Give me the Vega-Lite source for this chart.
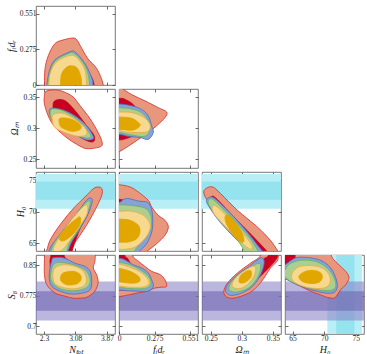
{
"$schema":"https://vega.github.io/schema/vega-lite/v6.json",
"datasets":{
"hb":[{"k":"h2","lo":70.5,"hi":76.0},{"k":"h1","lo":71.9,"hi":74.8}],
"sb":[{"k":"s2","lo":0.714,"hi":0.81},{"k":"s1","lo":0.738,"hi":0.786}],
"a":[
{"c":"1","x":2.31,"y":0.0},{"c":"1","x":2.325,"y":0.126},{"c":"1","x":2.41,"y":0.229},{"c":"1","x":2.57,"y":0.319},{"c":"1","x":2.77,"y":0.347},{"c":"1","x":3.02,"y":0.363},{"c":"1","x":3.12,"y":0.347},{"c":"1","x":3.25,"y":0.278},{"c":"1","x":3.4,"y":0.2},{"c":"1","x":3.62,"y":0.124},{"c":"1","x":3.78,"y":0.0},{"c":"1","x":3.82,"y":-0.15},{"c":"1","x":2.29,"y":-0.15},
{"c":"2","x":2.45,"y":0.0},{"c":"2","x":2.5,"y":0.1},{"c":"2","x":2.7,"y":0.2},{"c":"2","x":2.95,"y":0.24},{"c":"2","x":3.2,"y":0.2},{"c":"2","x":3.45,"y":0.08},{"c":"2","x":3.55,"y":0.0},{"c":"2","x":3.58,"y":-0.15},{"c":"2","x":2.43,"y":-0.15},
{"c":"3","x":2.37,"y":0.0},{"c":"3","x":2.45,"y":0.126},{"c":"3","x":2.57,"y":0.193},{"c":"3","x":2.77,"y":0.232},{"c":"3","x":3.0,"y":0.262},{"c":"3","x":3.07,"y":0.255},{"c":"3","x":3.2,"y":0.216},{"c":"3","x":3.37,"y":0.139},{"c":"3","x":3.5,"y":0.046},{"c":"3","x":3.52,"y":0.0},{"c":"3","x":3.54,"y":-0.15},{"c":"3","x":2.35,"y":-0.15},
{"c":"4","x":2.39,"y":0.0},{"c":"4","x":2.49,"y":0.139},{"c":"4","x":2.65,"y":0.203},{"c":"4","x":2.9,"y":0.242},{"c":"4","x":3.02,"y":0.249},{"c":"4","x":3.2,"y":0.203},{"c":"4","x":3.37,"y":0.116},{"c":"4","x":3.44,"y":0.0},{"c":"4","x":3.46,"y":-0.15},{"c":"4","x":2.37,"y":-0.15},
{"c":"5","x":2.42,"y":0.0},{"c":"5","x":2.45,"y":0.087},{"c":"5","x":2.57,"y":0.164},{"c":"5","x":2.77,"y":0.208},{"c":"5","x":3.0,"y":0.229},{"c":"5","x":3.15,"y":0.2},{"c":"5","x":3.32,"y":0.116},{"c":"5","x":3.36,"y":0.0},{"c":"5","x":3.38,"y":-0.15},{"c":"5","x":2.4,"y":-0.15},
{"c":"6","x":2.71,"y":0.0},{"c":"6","x":2.74,"y":0.087},{"c":"6","x":2.87,"y":0.139},{"c":"6","x":3.02,"y":0.147},{"c":"6","x":3.14,"y":0.126},{"c":"6","x":3.22,"y":0.062},{"c":"6","x":3.24,"y":0.0},{"c":"6","x":3.26,"y":-0.15},{"c":"6","x":2.69,"y":-0.15}
],
"b":[
{"c":"1","x":2.37,"y":0.36},{"c":"1","x":2.66,"y":0.361},{"c":"1","x":2.99,"y":0.352},{"c":"1","x":3.2,"y":0.336},{"c":"1","x":3.45,"y":0.315},{"c":"1","x":3.65,"y":0.293},{"c":"1","x":3.75,"y":0.277},{"c":"1","x":3.7,"y":0.27},{"c":"1","x":3.4,"y":0.267},{"c":"1","x":3.2,"y":0.271},{"c":"1","x":2.82,"y":0.287},{"c":"1","x":2.49,"y":0.309},{"c":"1","x":2.32,"y":0.336},{"c":"1","x":2.31,"y":0.352},
{"c":"2","x":2.55,"y":0.343},{"c":"2","x":2.8,"y":0.345},{"c":"2","x":3.05,"y":0.33},{"c":"2","x":3.35,"y":0.305},{"c":"2","x":3.55,"y":0.288},{"c":"2","x":3.52,"y":0.278},{"c":"2","x":3.3,"y":0.282},{"c":"2","x":3.0,"y":0.295},{"c":"2","x":2.7,"y":0.31},{"c":"2","x":2.55,"y":0.325},
{"c":"3","x":2.45,"y":0.331},{"c":"3","x":2.74,"y":0.33},{"c":"3","x":3.07,"y":0.32},{"c":"3","x":3.36,"y":0.304},{"c":"3","x":3.53,"y":0.287},{"c":"3","x":3.5,"y":0.282},{"c":"3","x":3.32,"y":0.282},{"c":"3","x":2.99,"y":0.293},{"c":"3","x":2.62,"y":0.306},{"c":"3","x":2.47,"y":0.317},
{"c":"4","x":2.47,"y":0.33},{"c":"4","x":2.74,"y":0.329},{"c":"4","x":3.07,"y":0.317},{"c":"4","x":3.32,"y":0.301},{"c":"4","x":3.47,"y":0.287},{"c":"4","x":3.3,"y":0.285},{"c":"4","x":2.99,"y":0.295},{"c":"4","x":2.66,"y":0.307},{"c":"4","x":2.49,"y":0.314},
{"c":"5","x":2.53,"y":0.322},{"c":"5","x":2.78,"y":0.324},{"c":"5","x":3.07,"y":0.314},{"c":"5","x":3.32,"y":0.301},{"c":"5","x":3.36,"y":0.29},{"c":"5","x":3.15,"y":0.287},{"c":"5","x":2.82,"y":0.293},{"c":"5","x":2.57,"y":0.301},{"c":"5","x":2.51,"y":0.312},
{"c":"6","x":2.7,"y":0.316},{"c":"6","x":2.95,"y":0.315},{"c":"6","x":3.2,"y":0.306},{"c":"6","x":3.2,"y":0.298},{"c":"6","x":2.99,"y":0.295},{"c":"6","x":2.74,"y":0.301},{"c":"6","x":2.68,"y":0.309}
],
"c":[
{"c":"1","x":-0.15,"y":0.375},{"c":"1","x":0.0,"y":0.366},{"c":"1","x":0.098,"y":0.354},{"c":"1","x":0.2,"y":0.344},{"c":"1","x":0.303,"y":0.333},{"c":"1","x":0.368,"y":0.326},{"c":"1","x":0.355,"y":0.317},{"c":"1","x":0.291,"y":0.304},{"c":"1","x":0.226,"y":0.293},{"c":"1","x":0.149,"y":0.282},{"c":"1","x":0.072,"y":0.271},{"c":"1","x":0.0,"y":0.262},{"c":"1","x":-0.15,"y":0.245},
{"c":"2","x":-0.15,"y":0.35},{"c":"2","x":0.0,"y":0.348},{"c":"2","x":0.04,"y":0.347},{"c":"2","x":0.11,"y":0.338},{"c":"2","x":0.16,"y":0.32},{"c":"2","x":0.17,"y":0.3},{"c":"2","x":0.12,"y":0.289},{"c":"2","x":0.05,"y":0.283},{"c":"2","x":0.0,"y":0.281},{"c":"2","x":-0.15,"y":0.279},
{"c":"3","x":-0.15,"y":0.34},{"c":"3","x":0.0,"y":0.339},{"c":"3","x":0.098,"y":0.336},{"c":"3","x":0.175,"y":0.33},{"c":"3","x":0.226,"y":0.32},{"c":"3","x":0.252,"y":0.304},{"c":"3","x":0.265,"y":0.293},{"c":"3","x":0.226,"y":0.282},{"c":"3","x":0.162,"y":0.285},{"c":"3","x":0.072,"y":0.287},{"c":"3","x":0.0,"y":0.29},{"c":"3","x":-0.15,"y":0.29},
{"c":"4","x":-0.15,"y":0.334},{"c":"4","x":0.0,"y":0.333},{"c":"4","x":0.098,"y":0.331},{"c":"4","x":0.175,"y":0.325},{"c":"4","x":0.226,"y":0.312},{"c":"4","x":0.239,"y":0.298},{"c":"4","x":0.2,"y":0.287},{"c":"4","x":0.098,"y":0.289},{"c":"4","x":0.0,"y":0.293},{"c":"4","x":-0.15,"y":0.294},
{"c":"5","x":-0.15,"y":0.327},{"c":"5","x":0.0,"y":0.326},{"c":"5","x":0.098,"y":0.325},{"c":"5","x":0.188,"y":0.318},{"c":"5","x":0.239,"y":0.306},{"c":"5","x":0.226,"y":0.295},{"c":"5","x":0.149,"y":0.293},{"c":"5","x":0.046,"y":0.294},{"c":"5","x":0.0,"y":0.296},{"c":"5","x":-0.15,"y":0.298},
{"c":"6","x":-0.15,"y":0.318},{"c":"6","x":0.0,"y":0.318},{"c":"6","x":0.098,"y":0.316},{"c":"6","x":0.149,"y":0.309},{"c":"6","x":0.162,"y":0.304},{"c":"6","x":0.11,"y":0.297},{"c":"6","x":0.0,"y":0.298},{"c":"6","x":-0.15,"y":0.298}
],
"d":[
{"c":"1","x":3.65,"y":73.93},{"c":"1","x":3.74,"y":73.66},{"c":"1","x":3.74,"y":72.61},{"c":"1","x":3.57,"y":70.24},{"c":"1","x":3.36,"y":67.87},{"c":"1","x":3.11,"y":65.49},{"c":"1","x":2.93,"y":63.8},{"c":"1","x":2.75,"y":62.0},{"c":"1","x":2.2,"y":62.0},{"c":"1","x":2.36,"y":63.8},{"c":"1","x":2.45,"y":65.5},{"c":"1","x":2.66,"y":67.6},{"c":"1","x":2.99,"y":70.24},{"c":"1","x":3.32,"y":72.35},{"c":"1","x":3.53,"y":73.66},
{"c":"2","x":3.38,"y":71.7},{"c":"2","x":3.45,"y":71.6},{"c":"2","x":3.4,"y":69.8},{"c":"2","x":3.2,"y":67.4},{"c":"2","x":3.06,"y":65.0},{"c":"2","x":3.0,"y":63.8},{"c":"2","x":2.9,"y":62.0},{"c":"2","x":2.45,"y":62.0},{"c":"2","x":2.55,"y":63.8},{"c":"2","x":2.62,"y":64.9},{"c":"2","x":2.85,"y":67.3},{"c":"2","x":3.15,"y":69.9},
{"c":"3","x":3.47,"y":72.19},{"c":"3","x":3.5,"y":71.55},{"c":"3","x":3.4,"y":69.7},{"c":"3","x":3.2,"y":67.33},{"c":"3","x":2.99,"y":65.23},{"c":"3","x":2.9,"y":63.8},{"c":"3","x":2.78,"y":62.0},{"c":"3","x":2.28,"y":62.0},{"c":"3","x":2.42,"y":63.8},{"c":"3","x":2.49,"y":64.7},{"c":"3","x":2.78,"y":67.08},{"c":"3","x":3.11,"y":69.7},{"c":"3","x":3.36,"y":71.82},
{"c":"4","x":3.45,"y":71.55},{"c":"4","x":3.4,"y":70.24},{"c":"4","x":3.2,"y":67.6},{"c":"4","x":2.95,"y":65.23},{"c":"4","x":2.87,"y":63.8},{"c":"4","x":2.75,"y":62.0},{"c":"4","x":2.33,"y":62.0},{"c":"4","x":2.47,"y":63.8},{"c":"4","x":2.57,"y":65.23},{"c":"4","x":2.82,"y":67.33},{"c":"4","x":3.11,"y":69.7},{"c":"4","x":3.36,"y":71.55},
{"c":"5","x":3.39,"y":70.76},{"c":"5","x":3.36,"y":69.45},{"c":"5","x":3.15,"y":67.33},{"c":"5","x":2.95,"y":65.5},{"c":"5","x":2.74,"y":63.91},{"c":"5","x":2.53,"y":63.91},{"c":"5","x":2.66,"y":65.75},{"c":"5","x":2.91,"y":68.12},{"c":"5","x":3.15,"y":69.97},{"c":"5","x":3.32,"y":71.03},
{"c":"6","x":3.2,"y":69.18},{"c":"6","x":3.2,"y":68.12},{"c":"6","x":3.03,"y":66.54},{"c":"6","x":2.82,"y":65.49},{"c":"6","x":2.7,"y":65.49},{"c":"6","x":2.7,"y":66.29},{"c":"6","x":2.91,"y":67.87},{"c":"6","x":3.11,"y":68.91}
],
"e":[
{"c":"1","x":-0.15,"y":74.6},{"c":"1","x":0.0,"y":74.3},{"c":"1","x":0.085,"y":73.93},{"c":"1","x":0.149,"y":73.14},{"c":"1","x":0.226,"y":71.82},{"c":"1","x":0.252,"y":70.76},{"c":"1","x":0.303,"y":69.45},{"c":"1","x":0.355,"y":68.66},{"c":"1","x":0.381,"y":67.6},{"c":"1","x":0.355,"y":66.29},{"c":"1","x":0.291,"y":64.96},{"c":"1","x":0.226,"y":63.91},{"c":"1","x":0.2,"y":63.5},{"c":"1","x":0.15,"y":62.0},{"c":"1","x":-0.15,"y":62.0},
{"c":"2","x":-0.15,"y":72.2},{"c":"2","x":0.0,"y":72.0},{"c":"2","x":0.05,"y":71.6},{"c":"2","x":0.12,"y":70.0},{"c":"2","x":0.16,"y":67.5},{"c":"2","x":0.14,"y":65.0},{"c":"2","x":0.1,"y":63.8},{"c":"2","x":0.06,"y":62.0},{"c":"2","x":-0.15,"y":62.0},
{"c":"3","x":-0.15,"y":71.0},{"c":"3","x":0.0,"y":71.5},{"c":"3","x":0.03,"y":71.9},{"c":"3","x":0.07,"y":72.1},{"c":"3","x":0.15,"y":71.7},{"c":"3","x":0.22,"y":71.5},{"c":"3","x":0.25,"y":70.5},{"c":"3","x":0.26,"y":69.0},{"c":"3","x":0.255,"y":67.0},{"c":"3","x":0.215,"y":65.0},{"c":"3","x":0.16,"y":63.8},{"c":"3","x":0.1,"y":62.0},{"c":"3","x":-0.15,"y":62.0},
{"c":"4","x":-0.15,"y":71.1},{"c":"4","x":0.0,"y":71.1},{"c":"4","x":0.098,"y":71.0},{"c":"4","x":0.2,"y":70.6},{"c":"4","x":0.239,"y":69.7},{"c":"4","x":0.252,"y":68.4},{"c":"4","x":0.239,"y":67.1},{"c":"4","x":0.2,"y":65.8},{"c":"4","x":0.14,"y":64.4},{"c":"4","x":0.12,"y":63.8},{"c":"4","x":0.08,"y":62.0},{"c":"4","x":-0.15,"y":62.0},
{"c":"5","x":-0.15,"y":70.1},{"c":"5","x":0.0,"y":70.1},{"c":"5","x":0.098,"y":70.08},{"c":"5","x":0.188,"y":69.45},{"c":"5","x":0.239,"y":68.12},{"c":"5","x":0.232,"y":66.81},{"c":"5","x":0.188,"y":65.5},{"c":"5","x":0.124,"y":64.43},{"c":"5","x":0.046,"y":64.07},{"c":"5","x":0.0,"y":64.08},{"c":"5","x":-0.15,"y":64.1},
{"c":"6","x":-0.15,"y":68.9},{"c":"6","x":0.0,"y":68.85},{"c":"6","x":0.085,"y":68.66},{"c":"6","x":0.149,"y":67.87},{"c":"6","x":0.162,"y":66.81},{"c":"6","x":0.137,"y":65.75},{"c":"6","x":0.072,"y":65.23},{"c":"6","x":0.0,"y":65.2},{"c":"6","x":-0.15,"y":65.2}
],
"f":[
{"c":"1","x":0.242,"y":73.66},{"c":"1","x":0.253,"y":73.93},{"c":"1","x":0.266,"y":72.87},{"c":"1","x":0.293,"y":70.24},{"c":"1","x":0.325,"y":67.6},{"c":"1","x":0.346,"y":65.49},{"c":"1","x":0.358,"y":63.8},{"c":"1","x":0.372,"y":62.0},{"c":"1","x":0.335,"y":62.0},{"c":"1","x":0.321,"y":63.8},{"c":"1","x":0.314,"y":64.7},{"c":"1","x":0.293,"y":66.54},{"c":"1","x":0.271,"y":68.39},{"c":"1","x":0.25,"y":71.03},{"c":"1","x":0.239,"y":72.87},
{"c":"2","x":0.25,"y":72.3},{"c":"2","x":0.258,"y":72.2},{"c":"2","x":0.286,"y":69.3},{"c":"2","x":0.316,"y":66.3},{"c":"2","x":0.34,"y":63.8},{"c":"2","x":0.355,"y":62.0},{"c":"2","x":0.325,"y":62.0},{"c":"2","x":0.315,"y":63.8},{"c":"2","x":0.298,"y":65.5},{"c":"2","x":0.265,"y":69.5},{"c":"2","x":0.248,"y":71.5},
{"c":"3","x":0.2445,"y":72.08},{"c":"3","x":0.2526,"y":72.35},{"c":"3","x":0.2633,"y":71.55},{"c":"3","x":0.2875,"y":69.18},{"c":"3","x":0.3088,"y":66.81},{"c":"3","x":0.3277,"y":64.43},{"c":"3","x":0.333,"y":63.8},{"c":"3","x":0.345,"y":62.0},{"c":"3","x":0.315,"y":62.0},{"c":"3","x":0.307,"y":63.8},{"c":"3","x":0.3035,"y":64.43},{"c":"3","x":0.282,"y":66.54},{"c":"3","x":0.2606,"y":68.91},{"c":"3","x":0.2445,"y":71.29},
{"c":"4","x":0.2473,"y":71.82},{"c":"4","x":0.2553,"y":71.82},{"c":"4","x":0.2875,"y":68.66},{"c":"4","x":0.3116,"y":66.02},{"c":"4","x":0.326,"y":63.8},{"c":"4","x":0.337,"y":62.0},{"c":"4","x":0.31,"y":62.0},{"c":"4","x":0.304,"y":63.8},{"c":"4","x":0.2875,"y":66.29},{"c":"4","x":0.2661,"y":68.39},{"c":"4","x":0.2473,"y":71.03},
{"c":"5","x":0.2526,"y":70.76},{"c":"5","x":0.2606,"y":70.76},{"c":"5","x":0.2875,"y":68.12},{"c":"5","x":0.3088,"y":65.75},{"c":"5","x":0.3169,"y":64.43},{"c":"5","x":0.3116,"y":64.17},{"c":"5","x":0.2928,"y":65.75},{"c":"5","x":0.2714,"y":67.87},{"c":"5","x":0.2553,"y":69.7},
{"c":"6","x":0.2741,"y":69.45},{"c":"6","x":0.2821,"y":69.18},{"c":"6","x":0.2982,"y":67.08},{"c":"6","x":0.3035,"y":65.49},{"c":"6","x":0.2982,"y":65.23},{"c":"6","x":0.2847,"y":66.54},{"c":"6","x":0.2741,"y":68.39}
],
"g":[
{"c":"1","x":2.31,"y":0.875},{"c":"1","x":2.29,"y":0.92},{"c":"1","x":3.6,"y":0.92},{"c":"1","x":3.58,"y":0.875},{"c":"1","x":3.57,"y":0.86},{"c":"1","x":3.53,"y":0.843},{"c":"1","x":3.61,"y":0.827},{"c":"1","x":3.65,"y":0.81},{"c":"1","x":3.61,"y":0.794},{"c":"1","x":3.53,"y":0.782},{"c":"1","x":3.36,"y":0.771},{"c":"1","x":3.2,"y":0.769},{"c":"1","x":3.03,"y":0.769},{"c":"1","x":2.82,"y":0.774},{"c":"1","x":2.57,"y":0.782},{"c":"1","x":2.37,"y":0.802},{"c":"1","x":2.31,"y":0.827},{"c":"1","x":2.31,"y":0.86},
{"c":"2","x":2.47,"y":0.875},{"c":"2","x":2.46,"y":0.92},{"c":"2","x":2.8,"y":0.92},{"c":"2","x":2.8,"y":0.875},{"c":"2","x":2.9,"y":0.862},{"c":"2","x":3.1,"y":0.845},{"c":"2","x":3.2,"y":0.82},{"c":"2","x":3.1,"y":0.8},{"c":"2","x":2.85,"y":0.79},{"c":"2","x":2.6,"y":0.8},{"c":"2","x":2.48,"y":0.83},{"c":"2","x":2.45,"y":0.86},
{"c":"3","x":2.53,"y":0.868},{"c":"3","x":2.78,"y":0.868},{"c":"3","x":3.07,"y":0.855},{"c":"3","x":3.32,"y":0.847},{"c":"3","x":3.45,"y":0.835},{"c":"3","x":3.49,"y":0.81},{"c":"3","x":3.45,"y":0.79},{"c":"3","x":3.28,"y":0.782},{"c":"3","x":2.99,"y":0.779},{"c":"3","x":2.7,"y":0.786},{"c":"3","x":2.49,"y":0.798},{"c":"3","x":2.43,"y":0.819},{"c":"3","x":2.45,"y":0.843},{"c":"3","x":2.49,"y":0.86},
{"c":"4","x":2.57,"y":0.855},{"c":"4","x":2.87,"y":0.855},{"c":"4","x":3.15,"y":0.847},{"c":"4","x":3.36,"y":0.835},{"c":"4","x":3.45,"y":0.814},{"c":"4","x":3.4,"y":0.798},{"c":"4","x":3.24,"y":0.79},{"c":"4","x":2.95,"y":0.787},{"c":"4","x":2.66,"y":0.794},{"c":"4","x":2.49,"y":0.81},{"c":"4","x":2.47,"y":0.831},
{"c":"5","x":2.57,"y":0.843},{"c":"5","x":2.78,"y":0.851},{"c":"5","x":3.07,"y":0.847},{"c":"5","x":3.28,"y":0.835},{"c":"5","x":3.36,"y":0.814},{"c":"5","x":3.28,"y":0.798},{"c":"5","x":3.03,"y":0.792},{"c":"5","x":2.74,"y":0.796},{"c":"5","x":2.56,"y":0.806},{"c":"5","x":2.52,"y":0.827},
{"c":"6","x":2.78,"y":0.831},{"c":"6","x":3.03,"y":0.835},{"c":"6","x":3.2,"y":0.827},{"c":"6","x":3.22,"y":0.814},{"c":"6","x":3.11,"y":0.804},{"c":"6","x":2.87,"y":0.802},{"c":"6","x":2.72,"y":0.812},{"c":"6","x":2.72,"y":0.823}
],
"h":[
{"c":"1","x":-0.15,"y":0.92},{"c":"1","x":0.1,"y":0.92},{"c":"1","x":0.105,"y":0.875},{"c":"1","x":0.149,"y":0.86},{"c":"1","x":0.2,"y":0.847},{"c":"1","x":0.252,"y":0.835},{"c":"1","x":0.317,"y":0.827},{"c":"1","x":0.355,"y":0.814},{"c":"1","x":0.368,"y":0.798},{"c":"1","x":0.33,"y":0.796},{"c":"1","x":0.278,"y":0.794},{"c":"1","x":0.226,"y":0.787},{"c":"1","x":0.149,"y":0.782},{"c":"1","x":0.072,"y":0.777},{"c":"1","x":0.0,"y":0.773},{"c":"1","x":-0.15,"y":0.77},
{"c":"2","x":-0.15,"y":0.92},{"c":"2","x":0.04,"y":0.92},{"c":"2","x":0.045,"y":0.875},{"c":"2","x":0.07,"y":0.865},{"c":"2","x":0.1,"y":0.84},{"c":"2","x":0.1,"y":0.8},{"c":"2","x":0.05,"y":0.79},{"c":"2","x":0.0,"y":0.789},{"c":"2","x":-0.15,"y":0.789},
{"c":"3","x":-0.15,"y":0.871},{"c":"3","x":0.0,"y":0.867},{"c":"3","x":0.046,"y":0.863},{"c":"3","x":0.11,"y":0.851},{"c":"3","x":0.175,"y":0.843},{"c":"3","x":0.226,"y":0.831},{"c":"3","x":0.252,"y":0.814},{"c":"3","x":0.265,"y":0.798},{"c":"3","x":0.226,"y":0.786},{"c":"3","x":0.149,"y":0.786},{"c":"3","x":0.072,"y":0.787},{"c":"3","x":0.0,"y":0.789},{"c":"3","x":-0.15,"y":0.79},
{"c":"4","x":-0.15,"y":0.861},{"c":"4","x":0.0,"y":0.857},{"c":"4","x":0.085,"y":0.851},{"c":"4","x":0.162,"y":0.839},{"c":"4","x":0.226,"y":0.823},{"c":"4","x":0.247,"y":0.806},{"c":"4","x":0.214,"y":0.794},{"c":"4","x":0.124,"y":0.792},{"c":"4","x":0.0,"y":0.795},{"c":"4","x":-0.15,"y":0.796},
{"c":"5","x":-0.15,"y":0.858},{"c":"5","x":0.0,"y":0.853},{"c":"5","x":0.098,"y":0.843},{"c":"5","x":0.175,"y":0.831},{"c":"5","x":0.226,"y":0.814},{"c":"5","x":0.226,"y":0.802},{"c":"5","x":0.175,"y":0.796},{"c":"5","x":0.072,"y":0.796},{"c":"5","x":0.0,"y":0.799},{"c":"5","x":-0.15,"y":0.801},
{"c":"6","x":-0.15,"y":0.845},{"c":"6","x":0.0,"y":0.842},{"c":"6","x":0.085,"y":0.835},{"c":"6","x":0.149,"y":0.823},{"c":"6","x":0.162,"y":0.812},{"c":"6","x":0.124,"y":0.806},{"c":"6","x":0.046,"y":0.807},{"c":"6","x":0.0,"y":0.809},{"c":"6","x":-0.15,"y":0.81}
],
"k":[
{"c":"1","x":0.274,"y":0.774},{"c":"1","x":0.271,"y":0.786},{"c":"1","x":0.277,"y":0.806},{"c":"1","x":0.293,"y":0.831},{"c":"1","x":0.314,"y":0.855},{"c":"1","x":0.331,"y":0.875},{"c":"1","x":0.34,"y":0.92},{"c":"1","x":0.375,"y":0.92},{"c":"1","x":0.36,"y":0.875},{"c":"1","x":0.357,"y":0.86},{"c":"1","x":0.346,"y":0.843},{"c":"1","x":0.336,"y":0.819},{"c":"1","x":0.325,"y":0.798},{"c":"1","x":0.312,"y":0.782},{"c":"1","x":0.293,"y":0.771},{"c":"1","x":0.282,"y":0.769},
{"c":"2","x":0.29,"y":0.8},{"c":"2","x":0.31,"y":0.83},{"c":"2","x":0.335,"y":0.865},{"c":"2","x":0.343,"y":0.875},{"c":"2","x":0.35,"y":0.92},{"c":"2","x":0.365,"y":0.92},{"c":"2","x":0.358,"y":0.875},{"c":"2","x":0.354,"y":0.862},{"c":"2","x":0.343,"y":0.843},{"c":"2","x":0.328,"y":0.82},{"c":"2","x":0.315,"y":0.8},{"c":"2","x":0.3,"y":0.79},
{"c":"3","x":0.274,"y":0.786},{"c":"3","x":0.277,"y":0.802},{"c":"3","x":0.293,"y":0.827},{"c":"3","x":0.3116,"y":0.847},{"c":"3","x":0.325,"y":0.863},{"c":"3","x":0.333,"y":0.868},{"c":"3","x":0.336,"y":0.855},{"c":"3","x":0.3304,"y":0.827},{"c":"3","x":0.3196,"y":0.802},{"c":"3","x":0.3063,"y":0.786},{"c":"3","x":0.2902,"y":0.777},{"c":"3","x":0.2794,"y":0.777},
{"c":"4","x":0.2794,"y":0.79},{"c":"4","x":0.2821,"y":0.806},{"c":"4","x":0.2955,"y":0.827},{"c":"4","x":0.3143,"y":0.845},{"c":"4","x":0.3277,"y":0.855},{"c":"4","x":0.3304,"y":0.843},{"c":"4","x":0.325,"y":0.819},{"c":"4","x":0.3143,"y":0.798},{"c":"4","x":0.3008,"y":0.787},{"c":"4","x":0.2875,"y":0.784},
{"c":"5","x":0.2847,"y":0.798},{"c":"5","x":0.2875,"y":0.814},{"c":"5","x":0.3008,"y":0.833},{"c":"5","x":0.3169,"y":0.847},{"c":"5","x":0.3223,"y":0.843},{"c":"5","x":0.3196,"y":0.823},{"c":"5","x":0.3088,"y":0.802},{"c":"5","x":0.2955,"y":0.792},
{"c":"6","x":0.2955,"y":0.81},{"c":"6","x":0.2982,"y":0.825},{"c":"6","x":0.3088,"y":0.836},{"c":"6","x":0.3153,"y":0.835},{"c":"6","x":0.3143,"y":0.82},{"c":"6","x":0.3063,"y":0.809},{"c":"6","x":0.2992,"y":0.806}
],
"m":[
{"c":"1","x":63.0,"y":0.92},{"c":"1","x":71.0,"y":0.92},{"c":"1","x":71.1,"y":0.875},{"c":"1","x":72.07,"y":0.855},{"c":"1","x":73.4,"y":0.835},{"c":"1","x":73.92,"y":0.819},{"c":"1","x":73.4,"y":0.802},{"c":"1","x":72.61,"y":0.79},{"c":"1","x":72.07,"y":0.777},{"c":"1","x":71.55,"y":0.769},{"c":"1","x":70.49,"y":0.771},{"c":"1","x":69.45,"y":0.777},{"c":"1","x":67.87,"y":0.786},{"c":"1","x":66.28,"y":0.798},{"c":"1","x":64.7,"y":0.81},{"c":"1","x":63.8,"y":0.818},{"c":"1","x":63.0,"y":0.826},
{"c":"2","x":63.0,"y":0.92},{"c":"2","x":65.3,"y":0.92},{"c":"2","x":65.4,"y":0.875},{"c":"2","x":65.3,"y":0.863},{"c":"2","x":64.6,"y":0.853},{"c":"2","x":63.8,"y":0.846},{"c":"2","x":63.0,"y":0.845},
{"c":"3","x":63.0,"y":0.845},{"c":"3","x":63.8,"y":0.851},{"c":"3","x":64.8,"y":0.862},{"c":"3","x":65.75,"y":0.869},{"c":"3","x":67.87,"y":0.868},{"c":"3","x":69.7,"y":0.86},{"c":"3","x":71.03,"y":0.843},{"c":"3","x":71.82,"y":0.819},{"c":"3","x":72.07,"y":0.798},{"c":"3","x":71.55,"y":0.783},{"c":"3","x":69.97,"y":0.782},{"c":"3","x":67.87,"y":0.79},{"c":"3","x":65.75,"y":0.802},{"c":"3","x":64.16,"y":0.814},{"c":"3","x":63.8,"y":0.815},{"c":"3","x":63.0,"y":0.815},
{"c":"4","x":63.0,"y":0.83},{"c":"4","x":63.8,"y":0.838},{"c":"4","x":64.43,"y":0.852},{"c":"4","x":66.28,"y":0.862},{"c":"4","x":68.66,"y":0.859},{"c":"4","x":70.49,"y":0.843},{"c":"4","x":71.55,"y":0.819},{"c":"4","x":71.82,"y":0.798},{"c":"4","x":71.03,"y":0.788},{"c":"4","x":68.91,"y":0.79},{"c":"4","x":66.54,"y":0.8},{"c":"4","x":64.7,"y":0.81},{"c":"4","x":63.8,"y":0.821},{"c":"4","x":63.0,"y":0.824},
{"c":"5","x":64.95,"y":0.831},{"c":"5","x":66.0,"y":0.846},{"c":"5","x":67.87,"y":0.849},{"c":"5","x":69.7,"y":0.843},{"c":"5","x":70.76,"y":0.827},{"c":"5","x":70.92,"y":0.806},{"c":"5","x":69.97,"y":0.794},{"c":"5","x":67.87,"y":0.794},{"c":"5","x":66.0,"y":0.802},{"c":"5","x":64.95,"y":0.814},
{"c":"6","x":66.0,"y":0.823},{"c":"6","x":67.07,"y":0.835},{"c":"6","x":68.39,"y":0.837},{"c":"6","x":69.45,"y":0.831},{"c":"6","x":69.7,"y":0.819},{"c":"6","x":69.18,"y":0.808},{"c":"6","x":67.87,"y":0.805},{"c":"6","x":66.54,"y":0.81}
]
},
"columns":4,
"spacing":4,
"bounds":"flush",
"resolve":{"scale":{"x":"independent","y":"independent"}},
"concat":[
{"width":79,"height":79,"data":{"name":"a"},"layer":[
 {"encoding":{
  "x":{"field":"x","type":"quantitative","scale":{"domain":[2.1,4.07],"nice":false,"zero":false},"axis":{"orient":"bottom","values":[2.3,3.08,3.87],"labels":false,"title":null}},
  "y":{"field":"y","type":"quantitative","scale":{"domain":[0,0.61],"nice":false,"zero":false},"axis":{"orient":"left","values":[0,0.275,0.551],"labelExpr":"''+datum.value","title":"fᵢdᵣ"}},
  "order":{"value":null},
  "fill":{"field":"c","type":"nominal","scale":{"domain":["1","2","3","4","5","6"],"range":["#e8967c","#c9001f","#86a3d9","#abcf8f","#f6d98e","#e1a600"]},"legend":null},
  "stroke":{"field":"c","type":"nominal","scale":{"domain":["1","2","3","4","5","6"],"range":["#d92b2b","#c9001f","#4a6cc0","#6fae55","#f0aa3c","#e1a600"]},"legend":null}},
  "layer":[
   {"transform":[{"filter":"datum.c=='1'"}],"mark":{"type":"line","interpolate":"cardinal-closed","clip":true}},
   {"transform":[{"filter":"datum.c=='2'"}],"mark":{"type":"line","interpolate":"cardinal-closed","clip":true}},
   {"transform":[{"filter":"datum.c=='3'"}],"mark":{"type":"line","interpolate":"cardinal-closed","clip":true}},
   {"transform":[{"filter":"datum.c=='4'"}],"mark":{"type":"line","interpolate":"cardinal-closed","clip":true}},
   {"transform":[{"filter":"datum.c=='5'"}],"mark":{"type":"line","interpolate":"cardinal-closed","clip":true}},
   {"transform":[{"filter":"datum.c=='6'"}],"mark":{"type":"line","interpolate":"cardinal-closed","clip":true}}
  ]},
 {"mark":{"type":"point","opacity":0},"encoding":{
  "x":{"field":"x","type":"quantitative","scale":{"domain":[2.1,4.07],"nice":false,"zero":false},"axis":{"orient":"top","values":[2.3,3.08,3.87],"labels":false,"title":null}},
  "y":{"field":"y","type":"quantitative","scale":{"domain":[0,0.61],"nice":false,"zero":false},"axis":{"orient":"right","values":[0,0.275,0.551],"labels":false,"title":null}}}}
],"resolve":{"axis":{"x":"independent","y":"independent"}}},
{"width":79,"height":79,"data":{"values":[{}]},"mark":{"type":"point","opacity":0},"view":{"stroke":null}},
{"width":79,"height":79,"data":{"values":[{}]},"mark":{"type":"point","opacity":0},"view":{"stroke":null}},
{"width":79,"height":79,"data":{"values":[{}]},"mark":{"type":"point","opacity":0},"view":{"stroke":null}},
{"width":79,"height":79,"data":{"name":"b"},"layer":[
 {"encoding":{
  "x":{"field":"x","type":"quantitative","scale":{"domain":[2.1,4.07],"nice":false,"zero":false},"axis":{"orient":"bottom","values":[2.3,3.08,3.87],"labels":false,"title":null}},
  "y":{"field":"y","type":"quantitative","scale":{"domain":[0.236,0.363],"nice":false,"zero":false},"axis":{"orient":"left","values":[0.25,0.3,0.35],"labelExpr":"''+datum.value","title":"Ωₘ"}},
  "order":{"value":null},
  "fill":{"field":"c","type":"nominal","scale":{"domain":["1","2","3","4","5","6"],"range":["#e8967c","#c9001f","#86a3d9","#abcf8f","#f6d98e","#e1a600"]},"legend":null},
  "stroke":{"field":"c","type":"nominal","scale":{"domain":["1","2","3","4","5","6"],"range":["#d92b2b","#c9001f","#4a6cc0","#6fae55","#f0aa3c","#e1a600"]},"legend":null}},
  "layer":[
   {"transform":[{"filter":"datum.c=='1'"}],"mark":{"type":"line","interpolate":"cardinal-closed","clip":true}},
   {"transform":[{"filter":"datum.c=='2'"}],"mark":{"type":"line","interpolate":"cardinal-closed","clip":true}},
   {"transform":[{"filter":"datum.c=='3'"}],"mark":{"type":"line","interpolate":"cardinal-closed","clip":true}},
   {"transform":[{"filter":"datum.c=='4'"}],"mark":{"type":"line","interpolate":"cardinal-closed","clip":true}},
   {"transform":[{"filter":"datum.c=='5'"}],"mark":{"type":"line","interpolate":"cardinal-closed","clip":true}},
   {"transform":[{"filter":"datum.c=='6'"}],"mark":{"type":"line","interpolate":"cardinal-closed","clip":true}}
  ]},
 {"mark":{"type":"point","opacity":0},"encoding":{
  "x":{"field":"x","type":"quantitative","scale":{"domain":[2.1,4.07],"nice":false,"zero":false},"axis":{"orient":"top","values":[2.3,3.08,3.87],"labels":false,"title":null}},
  "y":{"field":"y","type":"quantitative","scale":{"domain":[0.236,0.363],"nice":false,"zero":false},"axis":{"orient":"right","values":[0.25,0.3,0.35],"labels":false,"title":null}}}}
],"resolve":{"axis":{"x":"independent","y":"independent"}}},
{"width":79,"height":79,"data":{"name":"c"},"layer":[
 {"encoding":{
  "x":{"field":"x","type":"quantitative","scale":{"domain":[0,0.61],"nice":false,"zero":false},"axis":{"orient":"bottom","values":[0,0.275,0.551],"labels":false,"title":null}},
  "y":{"field":"y","type":"quantitative","scale":{"domain":[0.236,0.363],"nice":false,"zero":false},"axis":{"orient":"left","values":[0.25,0.3,0.35],"labels":false,"title":null}},
  "order":{"value":null},
  "fill":{"field":"c","type":"nominal","scale":{"domain":["1","2","3","4","5","6"],"range":["#e8967c","#c9001f","#86a3d9","#abcf8f","#f6d98e","#e1a600"]},"legend":null},
  "stroke":{"field":"c","type":"nominal","scale":{"domain":["1","2","3","4","5","6"],"range":["#d92b2b","#c9001f","#4a6cc0","#6fae55","#f0aa3c","#e1a600"]},"legend":null}},
  "layer":[
   {"transform":[{"filter":"datum.c=='1'"}],"mark":{"type":"line","interpolate":"cardinal-closed","clip":true}},
   {"transform":[{"filter":"datum.c=='2'"}],"mark":{"type":"line","interpolate":"cardinal-closed","clip":true}},
   {"transform":[{"filter":"datum.c=='3'"}],"mark":{"type":"line","interpolate":"cardinal-closed","clip":true}},
   {"transform":[{"filter":"datum.c=='4'"}],"mark":{"type":"line","interpolate":"cardinal-closed","clip":true}},
   {"transform":[{"filter":"datum.c=='5'"}],"mark":{"type":"line","interpolate":"cardinal-closed","clip":true}},
   {"transform":[{"filter":"datum.c=='6'"}],"mark":{"type":"line","interpolate":"cardinal-closed","clip":true}}
  ]},
 {"mark":{"type":"point","opacity":0},"encoding":{
  "x":{"field":"x","type":"quantitative","scale":{"domain":[0,0.61],"nice":false,"zero":false},"axis":{"orient":"top","values":[0,0.275,0.551],"labels":false,"title":null}},
  "y":{"field":"y","type":"quantitative","scale":{"domain":[0.236,0.363],"nice":false,"zero":false},"axis":{"orient":"right","values":[0.25,0.3,0.35],"labels":false,"title":null}}}}
],"resolve":{"axis":{"x":"independent","y":"independent"}}},
{"width":79,"height":79,"data":{"values":[{}]},"mark":{"type":"point","opacity":0},"view":{"stroke":null}},
{"width":79,"height":79,"data":{"values":[{}]},"mark":{"type":"point","opacity":0},"view":{"stroke":null}},
{"width":79,"height":79,"data":{"name":"d"},"layer":[
 {"data":{"name":"hb"},"mark":"rect","encoding":{
  "y":{"field":"lo","type":"quantitative","scale":{"domain":[63.8,76.3],"nice":false,"zero":false},"axis":null},"y2":{"field":"hi"},
  "color":{"field":"k","type":"nominal","scale":{"domain":["h2","h1","s2","s1"],"range":["#b8eef6","#95e3ef","#8e85c8","#7066af"]},"legend":null}}},
 {"encoding":{
  "x":{"field":"x","type":"quantitative","scale":{"domain":[2.1,4.07],"nice":false,"zero":false},"axis":{"orient":"bottom","values":[2.3,3.08,3.87],"labels":false,"title":null}},
  "y":{"field":"y","type":"quantitative","scale":{"domain":[63.8,76.3],"nice":false,"zero":false},"axis":{"orient":"left","values":[65,70,75],"labelExpr":"''+datum.value","title":"H₀"}},
  "order":{"value":null},
  "fill":{"field":"c","type":"nominal","scale":{"domain":["1","2","3","4","5","6"],"range":["#e8967c","#c9001f","#86a3d9","#abcf8f","#f6d98e","#e1a600"]},"legend":null},
  "stroke":{"field":"c","type":"nominal","scale":{"domain":["1","2","3","4","5","6"],"range":["#d92b2b","#c9001f","#4a6cc0","#6fae55","#f0aa3c","#e1a600"]},"legend":null}},
  "layer":[
   {"transform":[{"filter":"datum.c=='1'"}],"mark":{"type":"line","interpolate":"cardinal-closed","clip":true}},
   {"transform":[{"filter":"datum.c=='2'"}],"mark":{"type":"line","interpolate":"cardinal-closed","clip":true}},
   {"transform":[{"filter":"datum.c=='3'"}],"mark":{"type":"line","interpolate":"cardinal-closed","clip":true}},
   {"transform":[{"filter":"datum.c=='4'"}],"mark":{"type":"line","interpolate":"cardinal-closed","clip":true}},
   {"transform":[{"filter":"datum.c=='5'"}],"mark":{"type":"line","interpolate":"cardinal-closed","clip":true}},
   {"transform":[{"filter":"datum.c=='6'"}],"mark":{"type":"line","interpolate":"cardinal-closed","clip":true}}
  ]},
 {"mark":{"type":"point","opacity":0},"encoding":{
  "x":{"field":"x","type":"quantitative","scale":{"domain":[2.1,4.07],"nice":false,"zero":false},"axis":{"orient":"top","values":[2.3,3.08,3.87],"labels":false,"title":null}},
  "y":{"field":"y","type":"quantitative","scale":{"domain":[63.8,76.3],"nice":false,"zero":false},"axis":{"orient":"right","values":[65,70,75],"labels":false,"title":null}}}}
],"resolve":{"axis":{"x":"independent","y":"independent"}}},
{"width":79,"height":79,"data":{"name":"e"},"layer":[
 {"data":{"name":"hb"},"mark":"rect","encoding":{
  "y":{"field":"lo","type":"quantitative","scale":{"domain":[63.8,76.3],"nice":false,"zero":false},"axis":null},"y2":{"field":"hi"},
  "color":{"field":"k","type":"nominal","scale":{"domain":["h2","h1","s2","s1"],"range":["#b8eef6","#95e3ef","#8e85c8","#7066af"]},"legend":null}}},
 {"encoding":{
  "x":{"field":"x","type":"quantitative","scale":{"domain":[0,0.61],"nice":false,"zero":false},"axis":{"orient":"bottom","values":[0,0.275,0.551],"labels":false,"title":null}},
  "y":{"field":"y","type":"quantitative","scale":{"domain":[63.8,76.3],"nice":false,"zero":false},"axis":{"orient":"left","values":[65,70,75],"labels":false,"title":null}},
  "order":{"value":null},
  "fill":{"field":"c","type":"nominal","scale":{"domain":["1","2","3","4","5","6"],"range":["#e8967c","#c9001f","#86a3d9","#abcf8f","#f6d98e","#e1a600"]},"legend":null},
  "stroke":{"field":"c","type":"nominal","scale":{"domain":["1","2","3","4","5","6"],"range":["#d92b2b","#c9001f","#4a6cc0","#6fae55","#f0aa3c","#e1a600"]},"legend":null}},
  "layer":[
   {"transform":[{"filter":"datum.c=='1'"}],"mark":{"type":"line","interpolate":"cardinal-closed","clip":true}},
   {"transform":[{"filter":"datum.c=='2'"}],"mark":{"type":"line","interpolate":"cardinal-closed","clip":true}},
   {"transform":[{"filter":"datum.c=='3'"}],"mark":{"type":"line","interpolate":"cardinal-closed","clip":true}},
   {"transform":[{"filter":"datum.c=='4'"}],"mark":{"type":"line","interpolate":"cardinal-closed","clip":true}},
   {"transform":[{"filter":"datum.c=='5'"}],"mark":{"type":"line","interpolate":"cardinal-closed","clip":true}},
   {"transform":[{"filter":"datum.c=='6'"}],"mark":{"type":"line","interpolate":"cardinal-closed","clip":true}}
  ]},
 {"mark":{"type":"point","opacity":0},"encoding":{
  "x":{"field":"x","type":"quantitative","scale":{"domain":[0,0.61],"nice":false,"zero":false},"axis":{"orient":"top","values":[0,0.275,0.551],"labels":false,"title":null}},
  "y":{"field":"y","type":"quantitative","scale":{"domain":[63.8,76.3],"nice":false,"zero":false},"axis":{"orient":"right","values":[65,70,75],"labels":false,"title":null}}}}
],"resolve":{"axis":{"x":"independent","y":"independent"}}},
{"width":79,"height":79,"data":{"name":"f"},"layer":[
 {"data":{"name":"hb"},"mark":"rect","encoding":{
  "y":{"field":"lo","type":"quantitative","scale":{"domain":[63.8,76.3],"nice":false,"zero":false},"axis":null},"y2":{"field":"hi"},
  "color":{"field":"k","type":"nominal","scale":{"domain":["h2","h1","s2","s1"],"range":["#b8eef6","#95e3ef","#8e85c8","#7066af"]},"legend":null}}},
 {"encoding":{
  "x":{"field":"x","type":"quantitative","scale":{"domain":[0.236,0.363],"nice":false,"zero":false},"axis":{"orient":"bottom","values":[0.25,0.3,0.35],"labels":false,"title":null}},
  "y":{"field":"y","type":"quantitative","scale":{"domain":[63.8,76.3],"nice":false,"zero":false},"axis":{"orient":"left","values":[65,70,75],"labels":false,"title":null}},
  "order":{"value":null},
  "fill":{"field":"c","type":"nominal","scale":{"domain":["1","2","3","4","5","6"],"range":["#e8967c","#c9001f","#86a3d9","#abcf8f","#f6d98e","#e1a600"]},"legend":null},
  "stroke":{"field":"c","type":"nominal","scale":{"domain":["1","2","3","4","5","6"],"range":["#d92b2b","#c9001f","#4a6cc0","#6fae55","#f0aa3c","#e1a600"]},"legend":null}},
  "layer":[
   {"transform":[{"filter":"datum.c=='1'"}],"mark":{"type":"line","interpolate":"cardinal-closed","clip":true}},
   {"transform":[{"filter":"datum.c=='2'"}],"mark":{"type":"line","interpolate":"cardinal-closed","clip":true}},
   {"transform":[{"filter":"datum.c=='3'"}],"mark":{"type":"line","interpolate":"cardinal-closed","clip":true}},
   {"transform":[{"filter":"datum.c=='4'"}],"mark":{"type":"line","interpolate":"cardinal-closed","clip":true}},
   {"transform":[{"filter":"datum.c=='5'"}],"mark":{"type":"line","interpolate":"cardinal-closed","clip":true}},
   {"transform":[{"filter":"datum.c=='6'"}],"mark":{"type":"line","interpolate":"cardinal-closed","clip":true}}
  ]},
 {"mark":{"type":"point","opacity":0},"encoding":{
  "x":{"field":"x","type":"quantitative","scale":{"domain":[0.236,0.363],"nice":false,"zero":false},"axis":{"orient":"top","values":[0.25,0.3,0.35],"labels":false,"title":null}},
  "y":{"field":"y","type":"quantitative","scale":{"domain":[63.8,76.3],"nice":false,"zero":false},"axis":{"orient":"right","values":[65,70,75],"labels":false,"title":null}}}}
],"resolve":{"axis":{"x":"independent","y":"independent"}}},
{"width":79,"height":79,"data":{"values":[{}]},"mark":{"type":"point","opacity":0},"view":{"stroke":null}},
{"width":79,"height":79,"data":{"name":"g"},"layer":[
 {"data":{"name":"sb"},"mark":{"type":"rect","opacity":0.6},"encoding":{
  "y":{"field":"lo","type":"quantitative","scale":{"domain":[0.681,0.875],"nice":false,"zero":false},"axis":null},"y2":{"field":"hi"},
  "color":{"field":"k","type":"nominal","scale":{"domain":["h2","h1","s2","s1"],"range":["#b8eef6","#95e3ef","#8e85c8","#7066af"]},"legend":null}}},
 {"encoding":{
  "x":{"field":"x","type":"quantitative","scale":{"domain":[2.1,4.07],"nice":false,"zero":false},"axis":{"orient":"bottom","values":[2.3,3.08,3.87],"labelExpr":"''+datum.value","title":"Nₜₒₜ"}},
  "y":{"field":"y","type":"quantitative","scale":{"domain":[0.681,0.875],"nice":false,"zero":false},"axis":{"orient":"left","values":[0.7,0.775,0.85],"labelExpr":"''+datum.value","title":"S₈"}},
  "order":{"value":null},
  "fill":{"field":"c","type":"nominal","scale":{"domain":["1","2","3","4","5","6"],"range":["#e8967c","#c9001f","#86a3d9","#abcf8f","#f6d98e","#e1a600"]},"legend":null},
  "stroke":{"field":"c","type":"nominal","scale":{"domain":["1","2","3","4","5","6"],"range":["#d92b2b","#c9001f","#4a6cc0","#6fae55","#f0aa3c","#e1a600"]},"legend":null}},
  "layer":[
   {"transform":[{"filter":"datum.c=='1'"}],"mark":{"type":"line","interpolate":"cardinal-closed","clip":true}},
   {"transform":[{"filter":"datum.c=='2'"}],"mark":{"type":"line","interpolate":"cardinal-closed","clip":true}},
   {"transform":[{"filter":"datum.c=='3'"}],"mark":{"type":"line","interpolate":"cardinal-closed","clip":true}},
   {"transform":[{"filter":"datum.c=='4'"}],"mark":{"type":"line","interpolate":"cardinal-closed","clip":true}},
   {"transform":[{"filter":"datum.c=='5'"}],"mark":{"type":"line","interpolate":"cardinal-closed","clip":true}},
   {"transform":[{"filter":"datum.c=='6'"}],"mark":{"type":"line","interpolate":"cardinal-closed","clip":true}}
  ]},
 {"mark":{"type":"point","opacity":0},"encoding":{
  "x":{"field":"x","type":"quantitative","scale":{"domain":[2.1,4.07],"nice":false,"zero":false},"axis":{"orient":"top","values":[2.3,3.08,3.87],"labels":false,"title":null}},
  "y":{"field":"y","type":"quantitative","scale":{"domain":[0.681,0.875],"nice":false,"zero":false},"axis":{"orient":"right","values":[0.7,0.775,0.85],"labels":false,"title":null}}}}
],"resolve":{"axis":{"x":"independent","y":"independent"}}},
{"width":79,"height":79,"data":{"name":"h"},"layer":[
 {"data":{"name":"sb"},"mark":{"type":"rect","opacity":0.6},"encoding":{
  "y":{"field":"lo","type":"quantitative","scale":{"domain":[0.681,0.875],"nice":false,"zero":false},"axis":null},"y2":{"field":"hi"},
  "color":{"field":"k","type":"nominal","scale":{"domain":["h2","h1","s2","s1"],"range":["#b8eef6","#95e3ef","#8e85c8","#7066af"]},"legend":null}}},
 {"encoding":{
  "x":{"field":"x","type":"quantitative","scale":{"domain":[0,0.61],"nice":false,"zero":false},"axis":{"orient":"bottom","values":[0,0.275,0.551],"labelExpr":"''+datum.value","title":"fᵢdᵣ"}},
  "y":{"field":"y","type":"quantitative","scale":{"domain":[0.681,0.875],"nice":false,"zero":false},"axis":{"orient":"left","values":[0.7,0.775,0.85],"labels":false,"title":null}},
  "order":{"value":null},
  "fill":{"field":"c","type":"nominal","scale":{"domain":["1","2","3","4","5","6"],"range":["#e8967c","#c9001f","#86a3d9","#abcf8f","#f6d98e","#e1a600"]},"legend":null},
  "stroke":{"field":"c","type":"nominal","scale":{"domain":["1","2","3","4","5","6"],"range":["#d92b2b","#c9001f","#4a6cc0","#6fae55","#f0aa3c","#e1a600"]},"legend":null}},
  "layer":[
   {"transform":[{"filter":"datum.c=='1'"}],"mark":{"type":"line","interpolate":"cardinal-closed","clip":true}},
   {"transform":[{"filter":"datum.c=='2'"}],"mark":{"type":"line","interpolate":"cardinal-closed","clip":true}},
   {"transform":[{"filter":"datum.c=='3'"}],"mark":{"type":"line","interpolate":"cardinal-closed","clip":true}},
   {"transform":[{"filter":"datum.c=='4'"}],"mark":{"type":"line","interpolate":"cardinal-closed","clip":true}},
   {"transform":[{"filter":"datum.c=='5'"}],"mark":{"type":"line","interpolate":"cardinal-closed","clip":true}},
   {"transform":[{"filter":"datum.c=='6'"}],"mark":{"type":"line","interpolate":"cardinal-closed","clip":true}}
  ]},
 {"mark":{"type":"point","opacity":0},"encoding":{
  "x":{"field":"x","type":"quantitative","scale":{"domain":[0,0.61],"nice":false,"zero":false},"axis":{"orient":"top","values":[0,0.275,0.551],"labels":false,"title":null}},
  "y":{"field":"y","type":"quantitative","scale":{"domain":[0.681,0.875],"nice":false,"zero":false},"axis":{"orient":"right","values":[0.7,0.775,0.85],"labels":false,"title":null}}}}
],"resolve":{"axis":{"x":"independent","y":"independent"}}},
{"width":79,"height":79,"data":{"name":"k"},"layer":[
 {"data":{"name":"sb"},"mark":{"type":"rect","opacity":0.6},"encoding":{
  "y":{"field":"lo","type":"quantitative","scale":{"domain":[0.681,0.875],"nice":false,"zero":false},"axis":null},"y2":{"field":"hi"},
  "color":{"field":"k","type":"nominal","scale":{"domain":["h2","h1","s2","s1"],"range":["#b8eef6","#95e3ef","#8e85c8","#7066af"]},"legend":null}}},
 {"encoding":{
  "x":{"field":"x","type":"quantitative","scale":{"domain":[0.236,0.363],"nice":false,"zero":false},"axis":{"orient":"bottom","values":[0.25,0.3,0.35],"labelExpr":"''+datum.value","title":"Ωₘ"}},
  "y":{"field":"y","type":"quantitative","scale":{"domain":[0.681,0.875],"nice":false,"zero":false},"axis":{"orient":"left","values":[0.7,0.775,0.85],"labels":false,"title":null}},
  "order":{"value":null},
  "fill":{"field":"c","type":"nominal","scale":{"domain":["1","2","3","4","5","6"],"range":["#e8967c","#c9001f","#86a3d9","#abcf8f","#f6d98e","#e1a600"]},"legend":null},
  "stroke":{"field":"c","type":"nominal","scale":{"domain":["1","2","3","4","5","6"],"range":["#d92b2b","#c9001f","#4a6cc0","#6fae55","#f0aa3c","#e1a600"]},"legend":null}},
  "layer":[
   {"transform":[{"filter":"datum.c=='1'"}],"mark":{"type":"line","interpolate":"cardinal-closed","clip":true}},
   {"transform":[{"filter":"datum.c=='2'"}],"mark":{"type":"line","interpolate":"cardinal-closed","clip":true}},
   {"transform":[{"filter":"datum.c=='3'"}],"mark":{"type":"line","interpolate":"cardinal-closed","clip":true}},
   {"transform":[{"filter":"datum.c=='4'"}],"mark":{"type":"line","interpolate":"cardinal-closed","clip":true}},
   {"transform":[{"filter":"datum.c=='5'"}],"mark":{"type":"line","interpolate":"cardinal-closed","clip":true}},
   {"transform":[{"filter":"datum.c=='6'"}],"mark":{"type":"line","interpolate":"cardinal-closed","clip":true}}
  ]},
 {"mark":{"type":"point","opacity":0},"encoding":{
  "x":{"field":"x","type":"quantitative","scale":{"domain":[0.236,0.363],"nice":false,"zero":false},"axis":{"orient":"top","values":[0.25,0.3,0.35],"labels":false,"title":null}},
  "y":{"field":"y","type":"quantitative","scale":{"domain":[0.681,0.875],"nice":false,"zero":false},"axis":{"orient":"right","values":[0.7,0.775,0.85],"labels":false,"title":null}}}}
],"resolve":{"axis":{"x":"independent","y":"independent"}}},
{"width":79,"height":79,"data":{"name":"m"},"layer":[
 {"data":{"name":"hb"},"mark":"rect","encoding":{
  "x":{"field":"lo","type":"quantitative","scale":{"domain":[63.8,76.3],"nice":false,"zero":false},"axis":null},"x2":{"field":"hi"},
  "color":{"field":"k","type":"nominal","scale":{"domain":["h2","h1","s2","s1"],"range":["#b8eef6","#95e3ef","#8e85c8","#7066af"]},"legend":null}}},
 {"data":{"name":"sb"},"mark":{"type":"rect","opacity":0.6},"encoding":{
  "y":{"field":"lo","type":"quantitative","scale":{"domain":[0.681,0.875],"nice":false,"zero":false},"axis":null},"y2":{"field":"hi"},
  "color":{"field":"k","type":"nominal","scale":{"domain":["h2","h1","s2","s1"],"range":["#b8eef6","#95e3ef","#8e85c8","#7066af"]},"legend":null}}},
 {"encoding":{
  "x":{"field":"x","type":"quantitative","scale":{"domain":[63.8,76.3],"nice":false,"zero":false},"axis":{"orient":"bottom","values":[65,70,75],"labelExpr":"''+datum.value","title":"H₀"}},
  "y":{"field":"y","type":"quantitative","scale":{"domain":[0.681,0.875],"nice":false,"zero":false},"axis":{"orient":"left","values":[0.7,0.775,0.85],"labels":false,"title":null}},
  "order":{"value":null},
  "fill":{"field":"c","type":"nominal","scale":{"domain":["1","2","3","4","5","6"],"range":["#e8967c","#c9001f","#86a3d9","#abcf8f","#f6d98e","#e1a600"]},"legend":null},
  "stroke":{"field":"c","type":"nominal","scale":{"domain":["1","2","3","4","5","6"],"range":["#d92b2b","#c9001f","#4a6cc0","#6fae55","#f0aa3c","#e1a600"]},"legend":null}},
  "layer":[
   {"transform":[{"filter":"datum.c=='1'"}],"mark":{"type":"line","interpolate":"cardinal-closed","clip":true}},
   {"transform":[{"filter":"datum.c=='2'"}],"mark":{"type":"line","interpolate":"cardinal-closed","clip":true}},
   {"transform":[{"filter":"datum.c=='3'"}],"mark":{"type":"line","interpolate":"cardinal-closed","clip":true}},
   {"transform":[{"filter":"datum.c=='4'"}],"mark":{"type":"line","interpolate":"cardinal-closed","clip":true}},
   {"transform":[{"filter":"datum.c=='5'"}],"mark":{"type":"line","interpolate":"cardinal-closed","clip":true}},
   {"transform":[{"filter":"datum.c=='6'"}],"mark":{"type":"line","interpolate":"cardinal-closed","clip":true}}
  ]},
 {"mark":{"type":"point","opacity":0},"encoding":{
  "x":{"field":"x","type":"quantitative","scale":{"domain":[63.8,76.3],"nice":false,"zero":false},"axis":{"orient":"top","values":[65,70,75],"labels":false,"title":null}},
  "y":{"field":"y","type":"quantitative","scale":{"domain":[0.681,0.875],"nice":false,"zero":false},"axis":{"orient":"right","values":[0.7,0.775,0.85],"labels":false,"title":null}}}}
],"resolve":{"axis":{"x":"independent","y":"independent"}}}
],
"config":{
 "view":{"stroke":"#555","strokeWidth":0.8},
 "line":{"strokeWidth":0.8},
 "axis":{"domain":false,"grid":false,"tickSize":-3,"tickColor":"#444","tickWidth":0.8,"labelFont":"Liberation Serif","labelFontSize":7.5,"labelColor":"#222","labelPadding":3,"labelOverlap":false,"labelFlush":false,"titleFont":"Liberation Serif","titleFontStyle":"italic","titleFontWeight":"normal","titleFontSize":10,"titleColor":"#222","titlePadding":3}
}
}
